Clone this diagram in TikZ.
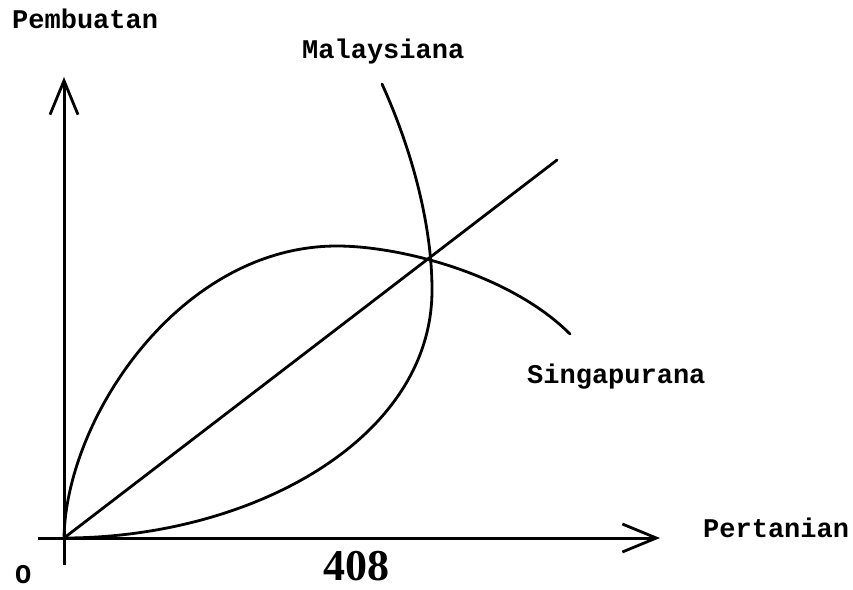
\documentclass[tikz,border=0pt]{standalone}
\usepackage{fontspec}
\newfontfamily\twfont{Liberation Mono}
\newfontfamily\numfont{Liberation Serif}
\usetikzlibrary{arrows.meta}
\tikzset{
  lbl/.style={inner sep=0pt, anchor=base west, font=\twfont\bfseries\fontsize{27}{30}\selectfont},
  curve/.style={line width=2.8pt, line cap=round},
  axis/.style={line width=3pt, -{Straight Barb[length=34pt,width=28pt,line width=2.8pt]}},
}
\begin{document}
\begin{tikzpicture}[x=1pt,y=-1pt]
\useasboundingbox (0,0) rectangle (853,589);
\coordinate (O) at (64,538);
\coordinate (xs) at (38,538);
\coordinate (xe) at (660,538);
\coordinate (ys) at (64,565);
\coordinate (ye) at (64,77);
\coordinate (dend) at (557,160);
\coordinate (mtop) at (382,84);
\coordinate (mmid) at (432,290);
\coordinate (speak) at (337,246);
\coordinate (send) at (570,334);
\draw[axis] (xs) -- (xe);
\draw[axis] (ys) -- (ye);
\draw[curve] (O) -- (dend);
\draw[curve] (mtop) .. controls (412,150) and (432,225) .. (mmid)
  .. controls (432,440) and (250,538) .. (O);
\draw[curve] (O) .. controls (66,418) and (180,246) .. (speak)
  .. controls (400,246) and (510,274) .. (send);
\node[lbl] (pemb) at (12,28) {Pembuatan};
\node[lbl] (mal) at (302,58) {Malaysiana};
\node[lbl] (sing) at (527,383) {Singapurana};
\node[lbl] (pert) at (703,537) {Pertanian};
\node[lbl] (orig) at (15,583) {O};
\node[inner sep=0pt, anchor=base west, font=\numfont\bfseries\fontsize{44}{48}\selectfont] (n408) at (323,580) {408};
\end{tikzpicture}
\end{document}
